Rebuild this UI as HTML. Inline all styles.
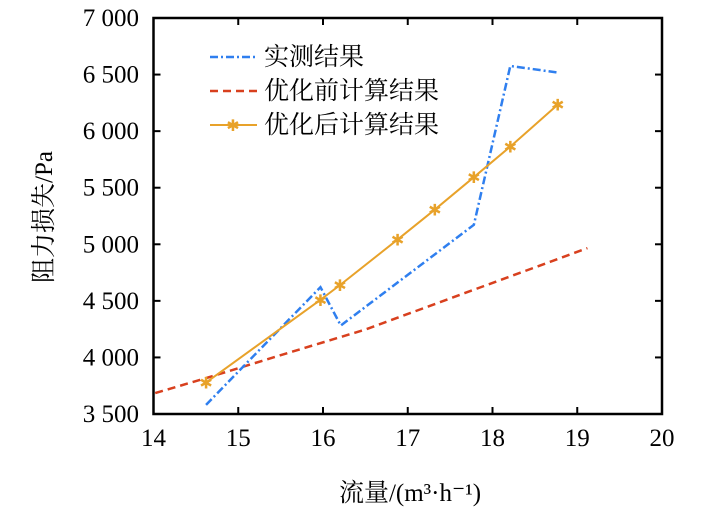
<!DOCTYPE html>
<html><head><meta charset="utf-8"><style>
body{margin:0;background:#fff}
svg{display:block}
text{font-family:"Liberation Serif","Noto Serif CJK SC",serif;fill:#000}
</style></head><body>
<svg id="chart" width="709" height="511">
<rect x="0" y="0" width="709" height="511" fill="#fff"/>
<g id="grid"></g>
<g id="series"></g>
<g id="legend">
  <line x1="210" y1="57" x2="257" y2="57" stroke="#2f7fef" stroke-width="2.5" stroke-dasharray="8,3,2,3"/>
  <text x="264" y="65" font-size="25">实测结果</text>
  <line x1="210" y1="91" x2="257" y2="91" stroke="#d8401e" stroke-width="2.5" stroke-dasharray="8,5"/>
  <text x="264" y="99" font-size="25">优化前计算结果</text>
  <line x1="210" y1="125" x2="257" y2="125" stroke="#e8a22a" stroke-width="2"/>
  <text x="233" y="131" font-size="16" text-anchor="middle" style="fill:#e8a22a">✱</text>
  <text x="264" y="133" font-size="25">优化后计算结果</text>
</g>
<text x="410" y="501" font-size="25" text-anchor="middle">流量/(m³·h⁻¹)</text>
<text transform="translate(52,217) rotate(-90)" font-size="25" text-anchor="middle">阻力损失/Pa</text>
</svg>
<script>
const xTicks=[14,15,16,17,18,19,20];
const yTicks=[3500,4000,4500,5000,5500,6000,6500,7000];
const yTickLabels=["3 500","4 000","4 500","5 000","5 500","6 000","6 500","7 000"];
const measuredX=[14.62,15.97,16.21,17.78,18.21,18.78];
const measuredY=[3581,4621,4282,5172,6576,6517];
const beforeX=[14.02,14.62,15.5,16.49,19.12];
const beforeY=[3685,3817,4020,4244,4966];
const afterX=[14.62,15.97,16.20,16.88,17.32,17.78,18.21,18.77];
const afterY=[3778,4509,4639,5042,5307,5593,5863,6234];

const L=153.5,R=662,T=18,B=414;
const sx=v=>L+(v-14)/6*(R-L);
const sy=v=>B-(v-3500)/3500*(B-T);
const NS="http://www.w3.org/2000/svg";
const g=document.getElementById('grid');
const s=document.getElementById('series');
function mk(t,a,p){const e=document.createElementNS(NS,t);for(const k in a)e.setAttribute(k,a[k]);(p||g).appendChild(e);return e;}

xTicks.forEach(v=>{
  const x=sx(v);
  let t=mk('line',{x1:x,y1:B,x2:x,y2:B-7,stroke:'#000','stroke-width':2});
  
  
  t=mk('line',{x1:x,y1:T,x2:x,y2:T+7,stroke:'#000','stroke-width':2});
  
  
  const l=mk('text',{x:x,y:446,'font-size':25,'text-anchor':'middle'});
  l.textContent=v;
  
  
});
yTicks.forEach((v,i)=>{
  const y=sy(v);
  let t=mk('line',{x1:L,y1:y,x2:L+7,y2:y,stroke:'#000','stroke-width':2});
  
  
  t=mk('line',{x1:R,y1:y,x2:R-7,y2:y,stroke:'#000','stroke-width':2});
  
  
  const l=mk('text',{x:139,y:y+8,'font-size':25,'text-anchor':'end'});
  l.textContent=yTickLabels[i];
  
  
});
const box=mk('rect',{x:L,y:T,width:R-L,height:B-T,fill:'none',stroke:'#000','stroke-width':2.5});



function pts(X,Y){return X.map((v,i)=>sx(v)+','+sy(Y[i])).join(' ');}
let p=mk('polyline',{points:pts(beforeX,beforeY),fill:'none',stroke:'#d8401e','stroke-width':2.5,'stroke-dasharray':'8,5'},s);


p=mk('polyline',{points:pts(measuredX,measuredY),fill:'none',stroke:'#2f7fef','stroke-width':2.5,'stroke-dasharray':'8,3,2,3'},s);


p=mk('polyline',{points:pts(afterX,afterY),fill:'none',stroke:'#e8a22a','stroke-width':2},s);


afterX.forEach((v,i)=>{
  const m=mk('text',{x:sx(v),y:sy(afterY[i])+6,'font-size':16,'text-anchor':'middle',style:'fill:#e8a22a'},s);
  m.textContent='✱';
  
  
});
</script>
</body></html>
